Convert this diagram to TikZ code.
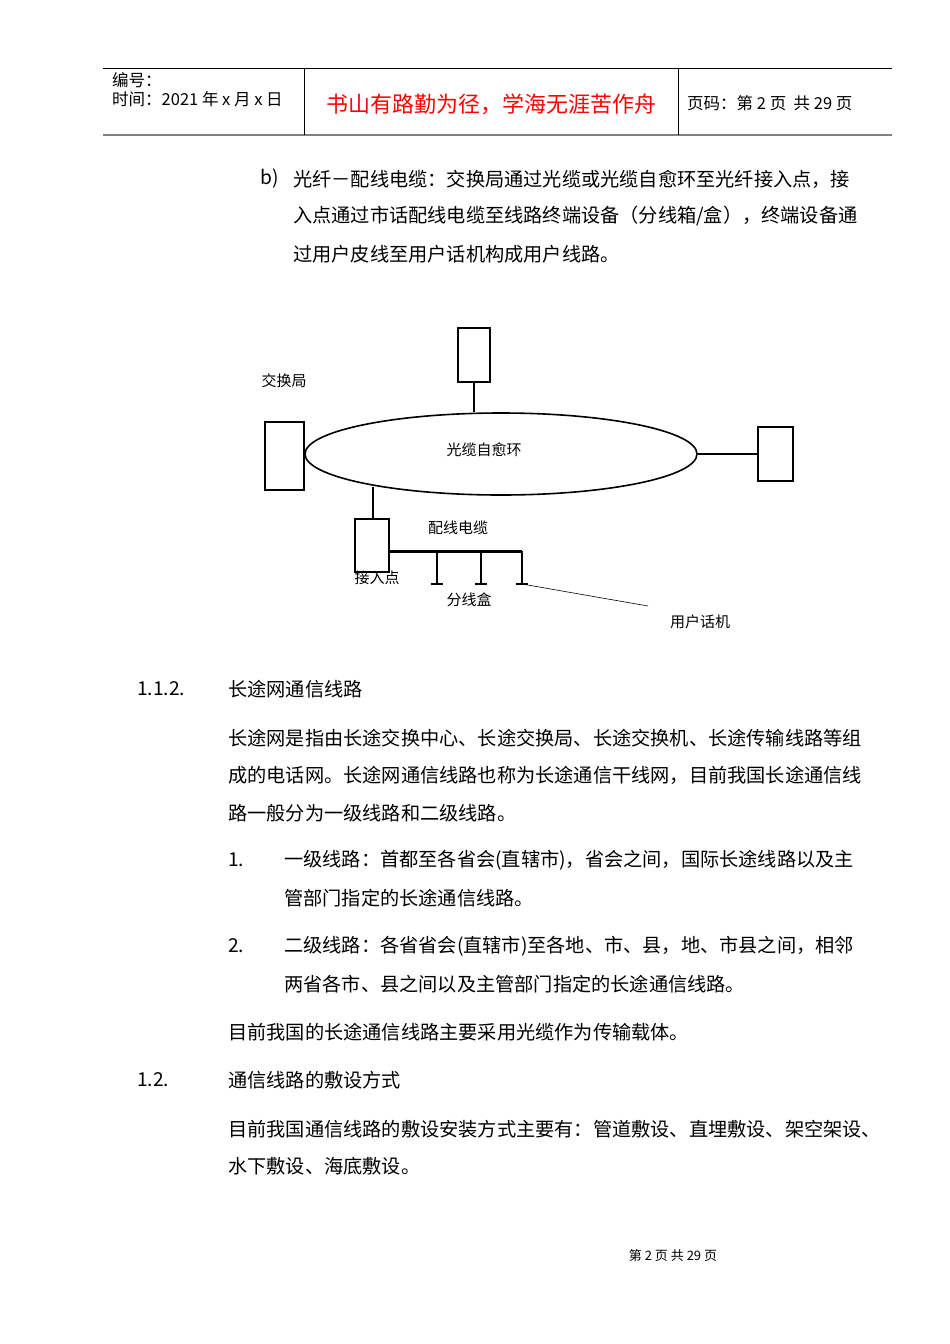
\documentclass[tikz,border=0pt]{standalone}
\usepackage{fontspec}
\usetikzlibrary{shapes.geometric}
\setmainfont{Liberation Sans}
\newfontfamily\cjk{Noto Sans CJK SC}
\begin{document}
\begin{tikzpicture}[x=1pt,y=-1pt,
  txt/.style={anchor=west,inner sep=0,font=\cjk\fontsize{19.2}{21}\selectfont},
  lbl/.style={inner sep=0,font=\cjk\fontsize{15}{17}\selectfont},
  hd/.style={anchor=west,inner sep=0,font=\cjk\fontsize{16.5}{18}\selectfont},
  box/.style={draw,line width=1.6pt}]
\useasboundingbox (0,0) rectangle (950,1344);
% header
\draw[line width=0.8pt] (103,68) -- (892,68);
\draw[line width=1.5pt,gray] (103,135) -- (892,135);
\draw[line width=0.8pt] (304,68) -- (304,135) (678,68) -- (678,135);
\node[hd] (h1) at (112,80) {编号：};
\node[hd] (h2) at (112,99) {时间：2021 年 x 月 x 日};
\node[inner sep=0,text=red,font=\cjk\fontsize{22}{24}\selectfont] (h3) at (491,104) {书山有路勤为径，学海无涯苦作舟};
\node[hd] (h4) at (687,103) {页码：第 2 页\ \ 共 29 页};
% text b)
\node[txt] (b) at (260,179) {b)};
\node[txt] (b1) at (293,179) {光纤－配线电缆：交换局通过光缆或光缆自愈环至光纤接入点，接};
\node[txt] (b2) at (293,216) {入点通过市话配线电缆至线路终端设备（分线箱/盒），终端设备通};
\node[txt] (b3) at (293,254) {过用户皮线至用户话机构成用户线路。};
% diagram
\node[box,minimum width=32,minimum height=54,inner sep=0] (top) at (474,355) {};
\node[draw,ellipse,line width=1.6pt,minimum width=392,minimum height=82,inner sep=0] (ring) at (501,454) {};
\node[box,minimum width=39,minimum height=68,inner sep=0] (left) at (284.5,456) {};
\node[box,minimum width=35,minimum height=54,inner sep=0] (right) at (775.5,454) {};
\node[box,minimum width=34,minimum height=53,inner sep=0] (acc) at (372,545.5) {};
\draw[line width=1.6pt] (top.south) -- (top.south|-ring.north);
\draw[line width=1.6pt] (ring.east) -- (right.west);
\coordinate (ra) at (373,487);
\coordinate (rb) at (373,519);
\draw[line width=1.6pt] (ra) -- (rb);
\coordinate (bs) at (389,551);
\coordinate (be) at (522,551);
\draw[line width=3pt] (bs) -- (be);
\foreach \x/\n in {437/d1,481/d2,522/d3}{
  \draw[line width=1.6pt] (\x,551) -- (\x,584);
  \draw[line width=2pt] (\x-6,584) -- (\x+6,584);
  \coordinate (\n) at (\x,584);
}
\coordinate (phone) at (648,606);
\draw[line width=0.6pt] (d3) -- (phone);
\node[lbl] (l1) at (284,381) {交换局};
\node[lbl] (l2) at (484,450) {光缆自愈环};
\node[lbl] (l3) at (458,528) {配线电缆};
\node[lbl] (l4) at (377,578) {接入点};
\node[lbl] (l5) at (469,600) {分线盒};
\node[lbl] (l6) at (700,622) {用户话机};
% body
\node[txt] (s1) at (137,689) {1.1.2.};
\node[txt] (s1t) at (228,689) {长途网通信线路};
\node[txt] (p1) at (228,738) {长途网是指由长途交换中心、长途交换局、长途交换机、长途传输线路等组};
\node[txt] (p2) at (228,775) {成的电话网。长途网通信线路也称为长途通信干线网，目前我国长途通信线};
\node[txt] (p3) at (228,813) {路一般分为一级线路和二级线路。};
\node[txt] (n1) at (228,860) {1.};
\node[txt] (n1a) at (284,860) {一级线路：首都至各省会(直辖市)，省会之间，国际长途线路以及主};
\node[txt] (n1b) at (284,898) {管部门指定的长途通信线路。};
\node[txt] (n2) at (228,946) {2.};
\node[txt] (n2a) at (284,946) {二级线路：各省省会(直辖市)至各地、市、县，地、市县之间，相邻};
\node[txt] (n2b) at (284,984) {两省各市、县之间以及主管部门指定的长途通信线路。};
\node[txt] (p4) at (228,1032) {目前我国的长途通信线路主要采用光缆作为传输载体。};
\node[txt] (s2) at (137,1080) {1.2.};
\node[txt] (s2t) at (228,1080) {通信线路的敷设方式};
\node[txt] (p5) at (228,1129) {目前我国通信线路的敷设安装方式主要有：管道敷设、直埋敷设、架空架设、};
\node[txt] (p6) at (228,1166) {水下敷设、海底敷设。};
\node[inner sep=0,font=\cjk\fontsize{13}{15}\selectfont] (foot) at (673,1256) {第\ 2\ 页\ 共\ 29\ 页};
\end{tikzpicture}
\end{document}
